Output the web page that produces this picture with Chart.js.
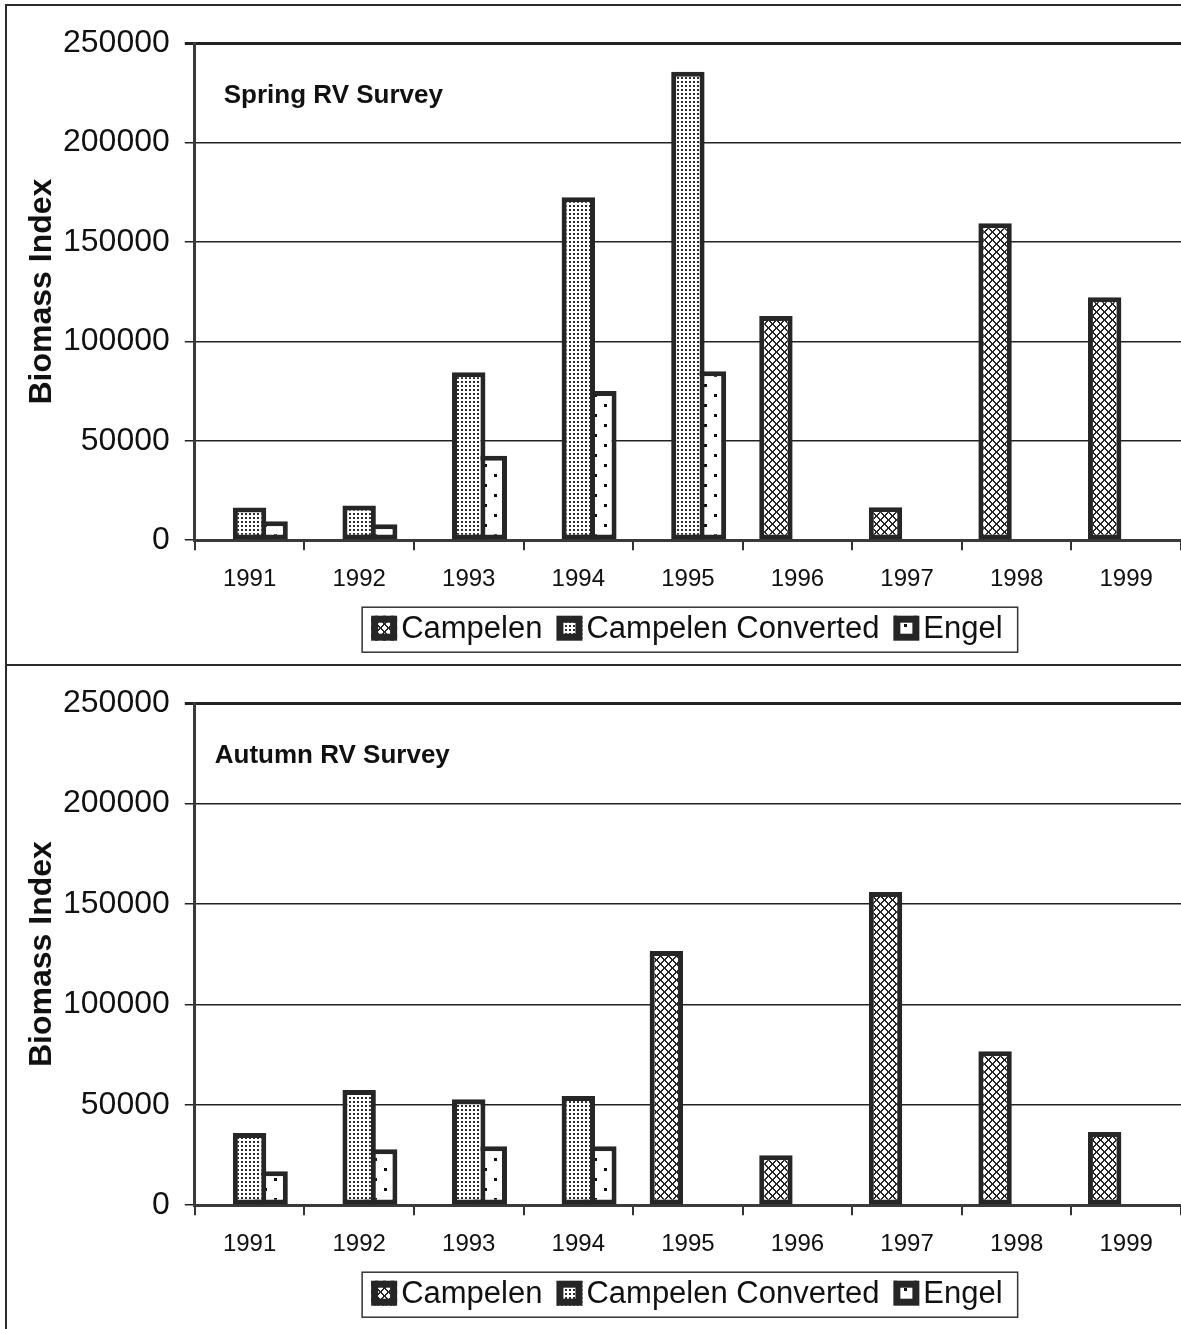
<!DOCTYPE html>
<html>
<head>
<meta charset="utf-8">
<script src="https://cdn.jsdelivr.net/npm/chart.js@4.4.1/dist/chart.umd.min.js"></script>
<style>
  html, body { margin: 0; padding: 0; background: #ffffff; }
  body { width: 1181px; height: 1329px; position: relative; overflow: hidden; }
  canvas { position: absolute; left: 0; display: block; }
  #spring { top: 0; }
  #autumn { top: 664px; }
  .rule { position: absolute; background: #2b2b2b; }
</style>
</head>
<body>
<canvas id="spring" width="1181" height="664"></canvas>
<canvas id="autumn" width="1181" height="665"></canvas>
<div class="rule" style="left:5px;top:4px;width:1176px;height:2px"></div>
<div class="rule" style="left:5px;top:4px;width:2px;height:1325px"></div>
<div class="rule" style="left:5px;top:664px;width:1176px;height:2px"></div>
<script>
// Survey years and series
const years = ['1991', '1992', '1993', '1994', '1995', '1996', '1997', '1998', '1999'];
const seriesNames = ['Campelen', 'Campelen Converted', 'Engel'];

// Spring RV survey biomass index
const springCampelen  = [null, null, null, null, null, 112700, 16600, 159400, 122200];
const springConverted = [16500, 17500, 84500, 172500, 235500, null, null, null, null];
const springEngel     = [9500, 8000, 42500, 75000, 85000, null, null, null, null];

// Autumn RV survey biomass index
const autumnCampelen  = [null, null, null, null, 126500, 24900, 155900, 76700, 36400];
const autumnConverted = [35900, 57300, 52800, 54300, null, null, null, null, null];
const autumnEngel     = [16900, 27900, 29400, 29400, null, null, null, null, null];

// Value axis
const yMax = 250000;
const yStep = 50000;

const FONT = "'Liberation Sans', Arial, Helvetica, sans-serif";
const INK = '#111111';
const EDGE = '#262626';
Chart.defaults.font.family = FONT;
Chart.defaults.color = INK;

// Small bitmap tiles used as hatch fills
const probe = document.createElement('canvas').getContext('2d');
function makeFill(w, h, bg, fg, cells) {
  const c = document.createElement('canvas');
  c.width = w; c.height = h;
  const g = c.getContext('2d');
  g.fillStyle = bg; g.fillRect(0, 0, w, h);
  g.fillStyle = fg;
  cells.forEach(([x, y, cw, ch]) => g.fillRect(x, y, cw, ch));
  return probe.createPattern(c, 'repeat');
}
// diagonal lattice: white crosses framed by 2px dark diagonals
const latticeCells = [];
for (let i = 0; i < 8; i++) {
  latticeCells.push([i, i, 1, 1], [(i + 1) % 8, i, 1, 1]);
  latticeCells.push([7 - i, i, 1, 1], [(8 - i) % 8, i, 1, 1]);
}
const fills = [
  makeFill(8, 8, '#ffffff', '#262626', latticeCells),
  // dense dots
  makeFill(4, 4, '#ffffff', '#2e2e2e', [[1, 1, 2, 2]]),
  // sparse staggered dots
  makeFill(20, 20, '#ffffff', '#111111', [[4, 4, 3, 3], [14, 14, 3, 3]])
];

// Bold caption inside the plot area
const surveyNote = {
  id: 'surveyNote',
  afterDatasetsDraw(chart, args, opts) {
    const {ctx, chartArea} = chart;
    ctx.save();
    ctx.font = 'bold 26px ' + FONT;
    ctx.fillStyle = INK;
    ctx.textBaseline = 'alphabetic';
    ctx.textAlign = 'left';
    ctx.fillText(opts.text, chartArea.left + opts.dx, chartArea.top + opts.dy);
    ctx.restore();
  }
};

// Framed legend row under the category axis
const boxedLegend = {
  id: 'boxedLegend',
  afterDraw(chart) {
    const {ctx, chartArea} = chart;
    const sets = chart.data.datasets;
    const sw = 26, sh = 25, gapText = 4, gapItem = 14;
    ctx.save();
    ctx.font = '31px ' + FONT;
    const widths = sets.map(d => sw + gapText + ctx.measureText(d.label).width);
    const total = widths.reduce((a, b) => a + b, 0) + gapItem * (sets.length - 1);
    const cx = (chartArea.left + chartArea.right) / 2 - 1;
    const cy = chartArea.bottom + 88;
    let x = cx - total / 2;
    // frame
    ctx.strokeStyle = '#333333';
    ctx.lineWidth = 1.5;
    ctx.strokeRect(x - 9, cy - 21, total + 24, 45);
    sets.forEach((d, i) => {
      const top = cy - sh / 2;
      ctx.fillStyle = d.backgroundColor;
      ctx.fillRect(x, top, sw, sh);
      ctx.strokeStyle = EDGE;
      ctx.lineWidth = 7;
      ctx.strokeRect(x + 3.5, top + 3.5, sw - 7, sh - 7);
      ctx.fillStyle = INK;
      ctx.textAlign = 'left';
      ctx.textBaseline = 'middle';
      ctx.fillText(d.label, x + sw + gapText, cy + 1);
      x += widths[i] + gapItem;
    });
    ctx.restore();
  }
};

function makeChart(canvasId, values, note) {
  const datasets = seriesNames.map((name, i) => ({
    label: name,
    data: values[i],
    backgroundColor: fills[i],
    borderColor: EDGE,
    borderWidth: 5,
    borderSkipped: false,
    categoryPercentage: 0.59,
    barPercentage: 1.55
  }));
  return new Chart(document.getElementById(canvasId), {
    type: 'bar',
    data: { labels: years, datasets },
    options: {
      responsive: false,
      animation: false,
      devicePixelRatio: 1,
      layout: { padding: { left: 10, right: 0, top: note.padTop, bottom: 55 } },
      plugins: {
        legend: { display: false },
        tooltip: { enabled: false },
        surveyNote: { text: note.text, dx: note.dx, dy: 60 }
      },
      scales: {
        x: {
          grid: { offset: true, drawOnChartArea: false, drawTicks: true, tickLength: 10, color: '#333333', lineWidth: 2 },
          border: { display: true, color: '#3a3a3a', width: 3 },
          ticks: { color: INK, font: { size: 24 }, padding: 15, maxRotation: 0, autoSkip: false }
        },
        y: {
          min: 0,
          max: yMax,
          ticks: { stepSize: yStep, callback: v => String(v), color: INK, font: { size: 32 }, padding: 15 },
          grid: {
            color: '#222222',
            lineWidth: c => (c.tick && c.tick.value === yMax) ? 3 : 1.5,
            tickLength: 10
          },
          border: { display: true, color: '#3a3a3a', width: 3 },
          title: {
            display: true,
            text: 'Biomass Index',
            color: INK,
            font: { size: 32, weight: 'bold', lineHeight: 1 },
            padding: { top: 16, bottom: -10 }
          }
        }
      }
    },
    plugins: [surveyNote, boxedLegend]
  });
}

makeChart('spring', [springCampelen, springConverted, springEngel],
  { text: 'Spring RV Survey', dx: 29, padTop: 43 });
makeChart('autumn', [autumnCampelen, autumnConverted, autumnEngel],
  { text: 'Autumn RV Survey', dx: 20, padTop: 39 });
</script>
</body>
</html>
